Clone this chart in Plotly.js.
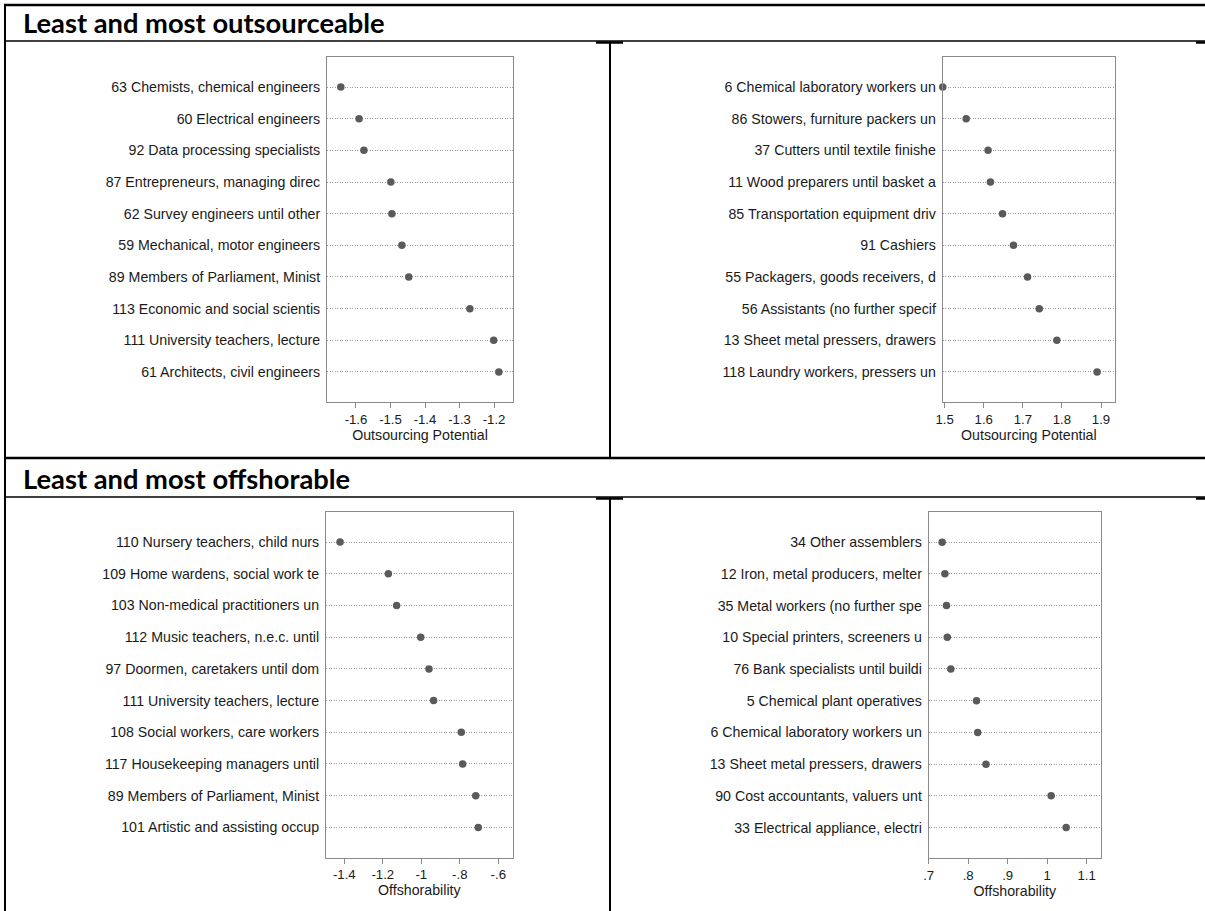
<!DOCTYPE html>
<html>
<head>
<meta charset="utf-8">
<script src="https://cdn.plot.ly/plotly-3.0.1.min.js"></script>
<style>html,body{margin:0;padding:0;background:#fff;}#chart{width:1205px;height:911px;}</style>
</head>
<body>
<div id="chart"></div>
<script>
// ---- data ----
const headerTop = "Least and most outsourceable";
const headerBottom = "Least and most offshorable";
const titleOut = "Outsourcing Potential";
const titleOff = "Offshorability";

const labels1 = ["63 Chemists, chemical engineers","60 Electrical engineers","92 Data processing specialists","87 Entrepreneurs, managing direc","62 Survey engineers until other","59 Mechanical, motor engineers","89 Members of Parliament, Minist","113 Economic and social scientis","111 University teachers, lecture","61 Architects, civil engineers"];
const values1 = [-1.644,-1.591,-1.577,-1.499,-1.496,-1.467,-1.447,-1.270,-1.201,-1.186];

const labels2 = ["6 Chemical laboratory workers un","86 Stowers, furniture packers un","37 Cutters until textile finishe","11 Wood preparers until basket a","85 Transportation equipment driv","91 Cashiers","55 Packagers, goods receivers, d","56 Assistants (no further specif","13 Sheet metal pressers, drawers","118 Laundry workers, pressers un"];
const values2 = [1.495,1.555,1.611,1.617,1.648,1.676,1.712,1.742,1.787,1.890];

const labels3 = ["110 Nursery teachers, child nurs","109 Home wardens, social work te","103 Non-medical practitioners un","112 Music teachers, n.e.c. until","97 Doormen, caretakers until dom","111 University teachers, lecture","108 Social workers, care workers","117 Housekeeping managers until","89 Members of Parliament, Minist","101 Artistic and assisting occup"];
const values3 = [-1.422,-1.171,-1.128,-1.003,-0.960,-0.936,-0.792,-0.785,-0.717,-0.704];

const labels4 = ["34 Other assemblers","12 Iron, metal producers, melter","35 Metal workers (no further spe","10 Special printers, screeners u","76 Bank specialists until buildi","5 Chemical plant operatives","6 Chemical laboratory workers un","13 Sheet metal pressers, drawers","90 Cost accountants, valuers unt","33 Electrical appliance, electri"];
const values4 = [0.734,0.741,0.745,0.747,0.756,0.821,0.824,0.845,1.010,1.048];

const ticks1 = [-1.6,-1.5,-1.4,-1.3,-1.2];
const tickText1 = ["-1.6","-1.5","-1.4","-1.3","-1.2"];
const ticks2 = [1.5,1.6,1.7,1.8,1.9];
const tickText2 = ["1.5","1.6","1.7","1.8","1.9"];
const ticks3 = [-1.4,-1.2,-1,-0.8,-0.6];
const tickText3 = ["-1.4","-1.2","-1","-.8","-.6"];
const ticks4 = [0.7,0.8,0.9,1,1.1];
const tickText4 = [".7",".8",".9","1","1.1"];

// ---- layout helpers ----
const W = 1205, H = 911;
const px = x => x / W;
const py = y => 1 - y / H;

const dotColor = '#5a5a5a';
const boxColor = '#8a8a8a';
const textColor = '#1a1a1a';
const fam = '"Liberation Sans", Arial, sans-serif';
const labelFont = {family: fam, size: 14.2, color: textColor};
const tickFont = {family: fam, size: 13.2, color: textColor};

const panels = [
  {labels: labels1, values: values1, ticks: ticks1, tt: tickText1, title: titleOut, xd: [327, 513], yd: [57, 402], xr: [-1.684, -1.145]},
  {labels: labels2, values: values2, ticks: ticks2, tt: tickText2, title: titleOut, xd: [942.7, 1115], yd: [57, 402], xr: [1.4949, 1.9358]},
  {labels: labels3, values: values3, ticks: ticks3, tt: tickText3, title: titleOff, xd: [326, 512.7], yd: [512, 857.5], xr: [-1.495, -0.525]},
  {labels: labels4, values: values4, ticks: ticks4, tt: tickText4, title: titleOff, xd: [928.7, 1101], yd: [512, 857.7], xr: [0.7, 1.1362]}
];

const data = [];
const layout = {
  width: W, height: H,
  margin: {l: 0, r: 0, t: 0, b: 0},
  paper_bgcolor: '#fff', plot_bgcolor: '#fff',
  showlegend: false,
  font: labelFont,
  shapes: [], annotations: []
};

panels.forEach((p, i) => {
  const n = i === 0 ? '' : String(i + 1);
  data.push({
    type: 'scatter', mode: 'markers',
    x: p.values, y: p.labels,
    xaxis: 'x' + n, yaxis: 'y' + n,
    marker: {size: 7.5, color: dotColor},
    cliponaxis: false,
    hoverinfo: 'x+y'
  });
  layout['xaxis' + n] = {
    domain: [px(p.xd[0]), px(p.xd[1])],
    anchor: 'y' + n,
    range: p.xr,
    tickmode: 'array', tickvals: p.ticks, ticktext: p.tt,
    ticks: 'outside', ticklen: 5, tickwidth: 1, tickcolor: boxColor,
    showline: true, linecolor: boxColor, linewidth: 1, mirror: true,
    showgrid: false, zeroline: false,
    tickfont: tickFont,
    title: {text: p.title, font: labelFont, standoff: 0}
  };
  layout['yaxis' + n] = {
    domain: [py(p.yd[1]), py(p.yd[0])],
    anchor: 'x' + n,
    type: 'category',
    categoryorder: 'array', categoryarray: p.labels,
    range: [9.95, -0.95],
    ticks: 'outside', ticklen: 3, tickcolor: 'rgba(0,0,0,0)',
    showline: true, linecolor: boxColor, linewidth: 1, mirror: true,
    showgrid: true, gridcolor: '#9a9a9a', gridwidth: 1, griddash: '1px,1.5px',
    zeroline: false,
    tickfont: labelFont
  };
});

// table lines
function line(x0, y0, x1, y1, w) {
  layout.shapes.push({type: 'line', xref: 'paper', yref: 'paper',
    x0: px(x0), y0: py(y0), x1: px(x1), y1: py(y1),
    line: {color: '#000', width: w}, layer: 'above'});
}
line(4, 5, 1205, 5, 2.5);
line(5, 4, 5, 911, 2);
line(5, 41, 1205, 41, 1.5);
line(596, 42.5, 623, 42.5, 2.5);
line(1196, 42.5, 1205, 42.5, 2.5);
line(610, 41, 610, 458, 2);
line(5, 458, 1205, 458, 2.5);
line(5, 497, 1205, 497, 1.5);
line(596, 498.5, 623, 498.5, 2.5);
line(1196, 498.5, 1205, 498.5, 2.5);
line(610, 497, 610, 911, 2);

const headFont = {family: 'Lato, Carlito, sans-serif', size: 27.3, color: '#000', weight: 'bold'};
layout.annotations.push({xref: 'paper', yref: 'paper', x: px(21), y: py(22), xanchor: 'left', yanchor: 'middle',
  text: '<b>' + headerTop + '</b>', showarrow: false, font: headFont});
layout.annotations.push({xref: 'paper', yref: 'paper', x: px(21), y: py(478), xanchor: 'left', yanchor: 'middle',
  text: '<b>' + headerBottom + '</b>', showarrow: false, font: headFont});

Plotly.newPlot('chart', data, layout, {displayModeBar: false, staticPlot: true});
</script>
</body>
</html>
